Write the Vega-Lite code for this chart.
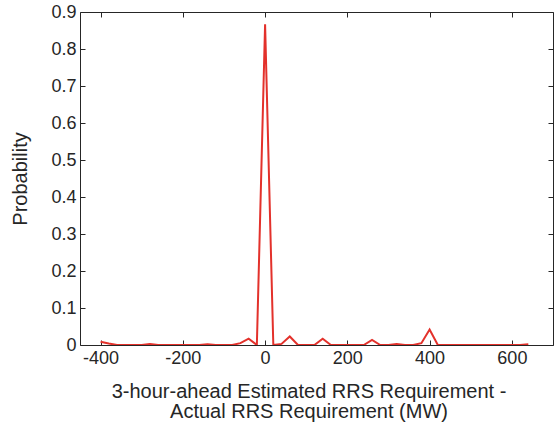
{
  "$schema": "https://vega.github.io/schema/vega-lite/v6.json",
  "width": 473,
  "height": 333,
  "autosize": {"type": "none"},
  "padding": {"left": 80, "top": 12, "right": 1, "bottom": 84},
  "background": "white",
  "config": {
    "view": {"stroke": "#262626", "strokeWidth": 1},
    "axis": {
      "grid": false,
      "domain": false,
      "tickColor": "#262626",
      "tickSize": -5,
      "tickWidth": 1,
      "labelFont": "Liberation Sans",
      "labelFontSize": 18,
      "labelColor": "#262626",
      "titleFont": "Liberation Sans",
      "titleFontSize": 20,
      "titleFontWeight": "normal",
      "titleColor": "#262626"
    }
  },
  "data": {
    "values": [
      {"mw": -400, "p": 0.009}, {"mw": -380, "p": 0.004}, {"mw": -360, "p": 0}, {"mw": -340, "p": 0},
      {"mw": -320, "p": 0}, {"mw": -300, "p": 0}, {"mw": -280, "p": 0.003}, {"mw": -260, "p": 0},
      {"mw": -240, "p": 0}, {"mw": -220, "p": 0}, {"mw": -200, "p": 0}, {"mw": -180, "p": 0},
      {"mw": -160, "p": 0}, {"mw": -140, "p": 0.002}, {"mw": -120, "p": 0}, {"mw": -100, "p": 0},
      {"mw": -80, "p": 0}, {"mw": -60, "p": 0.005}, {"mw": -40, "p": 0.017}, {"mw": -20, "p": 0},
      {"mw": 0, "p": 0.867}, {"mw": 20, "p": 0}, {"mw": 40, "p": 0.003}, {"mw": 60, "p": 0.023},
      {"mw": 80, "p": 0}, {"mw": 100, "p": 0}, {"mw": 120, "p": 0}, {"mw": 140, "p": 0.017},
      {"mw": 160, "p": 0}, {"mw": 180, "p": 0}, {"mw": 200, "p": 0}, {"mw": 220, "p": 0},
      {"mw": 240, "p": 0}, {"mw": 260, "p": 0.014}, {"mw": 280, "p": 0}, {"mw": 300, "p": 0},
      {"mw": 320, "p": 0.003}, {"mw": 340, "p": 0}, {"mw": 360, "p": 0}, {"mw": 380, "p": 0.005},
      {"mw": 400, "p": 0.042}, {"mw": 420, "p": 0}, {"mw": 440, "p": 0}, {"mw": 460, "p": 0},
      {"mw": 480, "p": 0}, {"mw": 500, "p": 0}, {"mw": 520, "p": 0}, {"mw": 540, "p": 0},
      {"mw": 560, "p": 0}, {"mw": 580, "p": 0}, {"mw": 600, "p": 0}, {"mw": 620, "p": 0},
      {"mw": 640, "p": 0.002}
    ]
  },
  "layer": [
    {
      "mark": {"type": "line", "color": "#e3312b", "strokeWidth": 2, "clip": true},
      "encoding": {
        "x": {
          "field": "mw", "type": "quantitative",
          "scale": {"domain": [-450, 700], "nice": false, "zero": false},
          "axis": {
            "values": [-400, -200, 0, 200, 400, 600],
            "labelExpr": "'' + datum.value",
            "labelPadding": 9,
            "title": ["3-hour-ahead Estimated RRS Requirement -", "Actual RRS Requirement (MW)"],
            "titleX": 228.5,
            "titleY": 52,
            "titleAlign": "center",
            "titleAnchor": null,
            "titleBaseline": "alphabetic",
            "titleLineHeight": 20
          }
        },
        "y": {
          "field": "p", "type": "quantitative",
          "scale": {"domain": [0, 0.9], "nice": false, "zero": true},
          "axis": {
            "values": [0, 0.1, 0.2, 0.3, 0.4, 0.5, 0.6, 0.7, 0.8, 0.9],
            "labelExpr": "'' + datum.value",
            "labelPadding": 9,
            "title": "Probability",
            "titleX": -60,
            "titleY": 166.5,
            "titleAngle": -90,
            "titleAlign": "center",
            "titleBaseline": "middle"
          }
        }
      }
    },
    {
      "mark": {"type": "point", "opacity": 0},
      "encoding": {
        "x": {
          "field": "mw", "type": "quantitative",
          "scale": {"domain": [-450, 700], "nice": false, "zero": false},
          "axis": {"orient": "top", "values": [-400, -200, 0, 200, 400, 600], "labels": false, "title": null}
        },
        "y": {
          "field": "p", "type": "quantitative",
          "scale": {"domain": [0, 0.9], "nice": false, "zero": true},
          "axis": {"orient": "right", "values": [0, 0.1, 0.2, 0.3, 0.4, 0.5, 0.6, 0.7, 0.8, 0.9], "labels": false, "title": null}
        }
      }
    }
  ],
  "resolve": {"axis": {"x": "independent", "y": "independent"}}
}
